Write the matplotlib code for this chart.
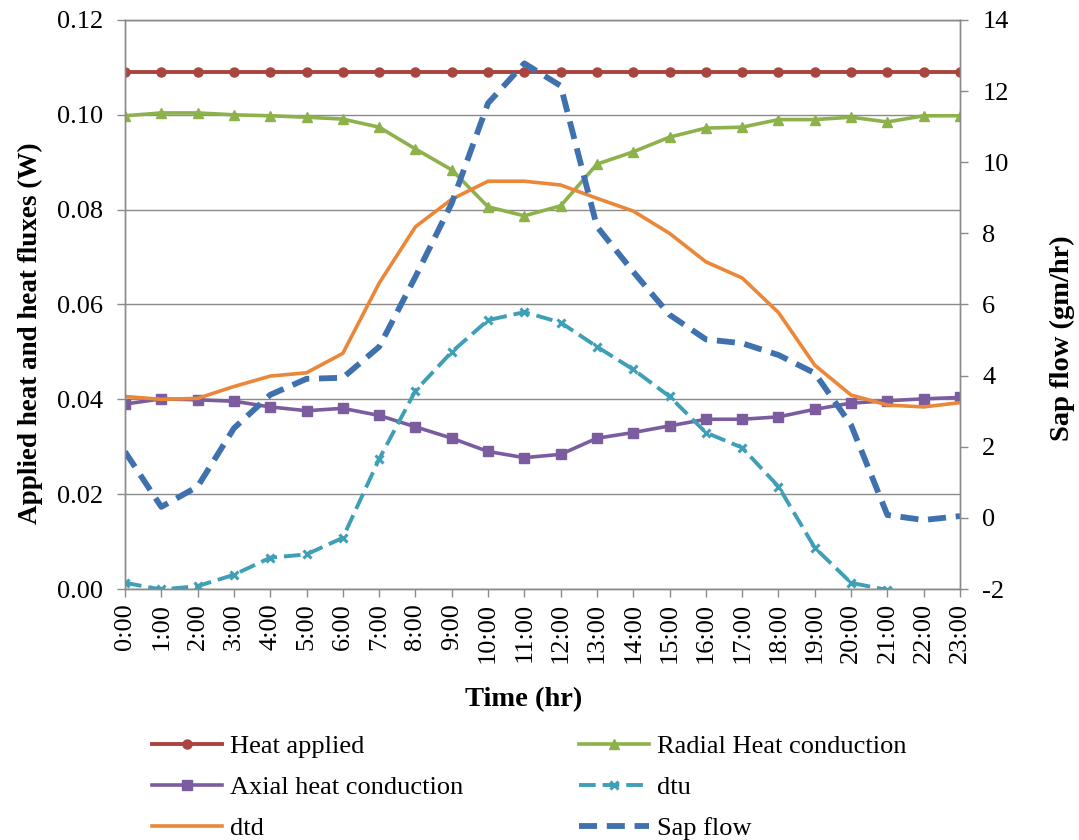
import matplotlib
matplotlib.use("Agg")
import matplotlib.pyplot as plt
from matplotlib.ticker import FormatStrFormatter

plt.rcParams['font.family'] = ['Liberation Serif', 'DejaVu Serif']
plt.rcParams['lines.scale_dashes'] = False
plt.rcParams['axes.unicode_minus'] = False

time_labels = ["0:00", "1:00", "2:00", "3:00", "4:00", "5:00", "6:00", "7:00",
               "8:00", "9:00", "10:00", "11:00", "12:00", "13:00", "14:00", "15:00",
               "16:00", "17:00", "18:00", "19:00", "20:00", "21:00", "22:00", "23:00"]

heat_applied = [0.109, 0.109, 0.109, 0.109, 0.109, 0.109, 0.109, 0.109,
                0.109, 0.109, 0.109, 0.109, 0.109, 0.109, 0.109, 0.109,
                0.109, 0.109, 0.109, 0.109, 0.109, 0.109, 0.109, 0.109]
radial = [0.0998, 0.1004, 0.1004, 0.1000, 0.0998, 0.0995, 0.0991, 0.0974,
          0.0928, 0.0884, 0.0806, 0.0787, 0.0808, 0.0896, 0.0922, 0.0953,
          0.0972, 0.0974, 0.0990, 0.0990, 0.0995, 0.0985, 0.0998, 0.0998]
axial = [0.0390, 0.0401, 0.0399, 0.0396, 0.0384, 0.0376, 0.0381, 0.0366,
         0.0342, 0.0318, 0.0290, 0.0277, 0.0284, 0.0318, 0.0330, 0.0344,
         0.0358, 0.0358, 0.0363, 0.0379, 0.0392, 0.0397, 0.0401, 0.0404]
dtu = [0.0013, -0.0001, 0.0006, 0.0030, 0.0066, 0.0073, 0.0108, 0.0274,
       0.0418, 0.0500, 0.0567, 0.0584, 0.0562, 0.0511, 0.0463, 0.0406,
       0.0330, 0.0298, 0.0216, 0.0087, 0.0013, -0.0002, -0.0010, -0.0015]
dtd = [0.0406, 0.0400, 0.0402, 0.0427, 0.0449, 0.0456, 0.0497, 0.0645,
       0.0764, 0.0822, 0.0860, 0.0860, 0.0852, 0.0824, 0.0797, 0.0750,
       0.0690, 0.0656, 0.0583, 0.0472, 0.0409, 0.0388, 0.0384, 0.0393]
sap_flow = [1.86, 0.31, 0.88, 2.52, 3.46, 3.91, 3.94, 4.81,
            6.78, 8.85, 11.66, 12.78, 12.15, 8.19, 6.92, 5.71,
            5.02, 4.91, 4.58, 4.07, 2.61, 0.08, -0.06, 0.05]

x = list(range(len(time_labels)))

c_red = '#A9443F'
c_green = '#8DB14B'
c_purple = '#7B5C9F'
c_teal = '#3E9FB6'
c_orange = '#EA8738'
c_blue = '#3F71AE'
c_axis = '#8A8A8A'

fig = plt.figure(figsize=(10.79, 8.40), dpi=100)
ax = fig.add_axes([125/1079, 1-589/840, (960-125)/1079, (589-20)/840])
ax2 = ax.twinx()

l1, = ax.plot(x, heat_applied, color=c_red, lw=2.8, marker='o', ms=6.5, label='Heat applied')
l2, = ax.plot(x, radial, color=c_green, lw=2.6, marker='^', ms=7.5, label='Radial Heat conduction')
l3, = ax.plot(x, axial, color=c_purple, lw=2.6, marker='s', ms=6.5, label='Axial heat conduction')
l4, = ax.plot(x, dtu, color=c_teal, lw=2.8, marker='x', ms=6, mew=2.2,
              linestyle=(0, (12, 5)), label='dtu')
l5, = ax.plot(x, dtd, color=c_orange, lw=2.6, label='dtd')
l6, = ax2.plot(x, sap_flow, color=c_blue, lw=4.2, linestyle=(0, (13, 7)), label='Sap flow')

ax.set_xlim(0, 23)
ax.set_ylim(0, 0.12)
ax.set_yticks([0, 0.02, 0.04, 0.06, 0.08, 0.10, 0.12])
ax.yaxis.set_major_formatter(FormatStrFormatter('%.2f'))
ax2.set_ylim(-2, 14)
ax2.set_yticks([-2, 0, 2, 4, 6, 8, 10, 12, 14])

ax.set_xticks(x)
ax.set_xticklabels(time_labels, rotation=90)

ax.grid(axis='y', color=c_axis, lw=1.0)
ax.set_axisbelow(True)

for a in (ax, ax2):
    for s in a.spines.values():
        s.set_color(c_axis)
        s.set_linewidth(1.0)
ax.tick_params(axis='both', colors=c_axis, labelcolor='black', labelsize=19,
               direction='out', length=6, width=1.0)
ax.tick_params(axis='y', pad=10)
ax.tick_params(axis='x', pad=4)
ax2.tick_params(axis='y', colors=c_axis, labelcolor='black', labelsize=19,
                direction='out', length=6, width=1.0, pad=10)

fig.text(30/1079, 1-333/840, 'Applied heat and heat fluxes (W)', rotation=90,
         fontsize=19.5, fontweight='bold', ha='center', va='center')
fig.text(1062/1079, 1-338/840, 'Sap flow (gm/hr)', rotation=90,
         fontsize=20.5, fontweight='bold', ha='center', va='center')
fig.text(524/1079, 1-700/840, 'Time (hr)', fontsize=20.5, fontweight='bold',
         ha='center', va='center')

handles = [l1, l3, l5, l2, l4, l6]
fig.legend(handles=handles, labels=[h.get_label() for h in handles], ncol=2,
           loc='upper left', bbox_to_anchor=(152/1079, 1-735/840),
           frameon=False, fontsize=19, numpoints=1, handlelength=2.65,
           handletextpad=0.3, columnspacing=4.4, labelspacing=0.66,
           borderpad=0, borderaxespad=0)

fig.savefig('out.png', dpi=100)
